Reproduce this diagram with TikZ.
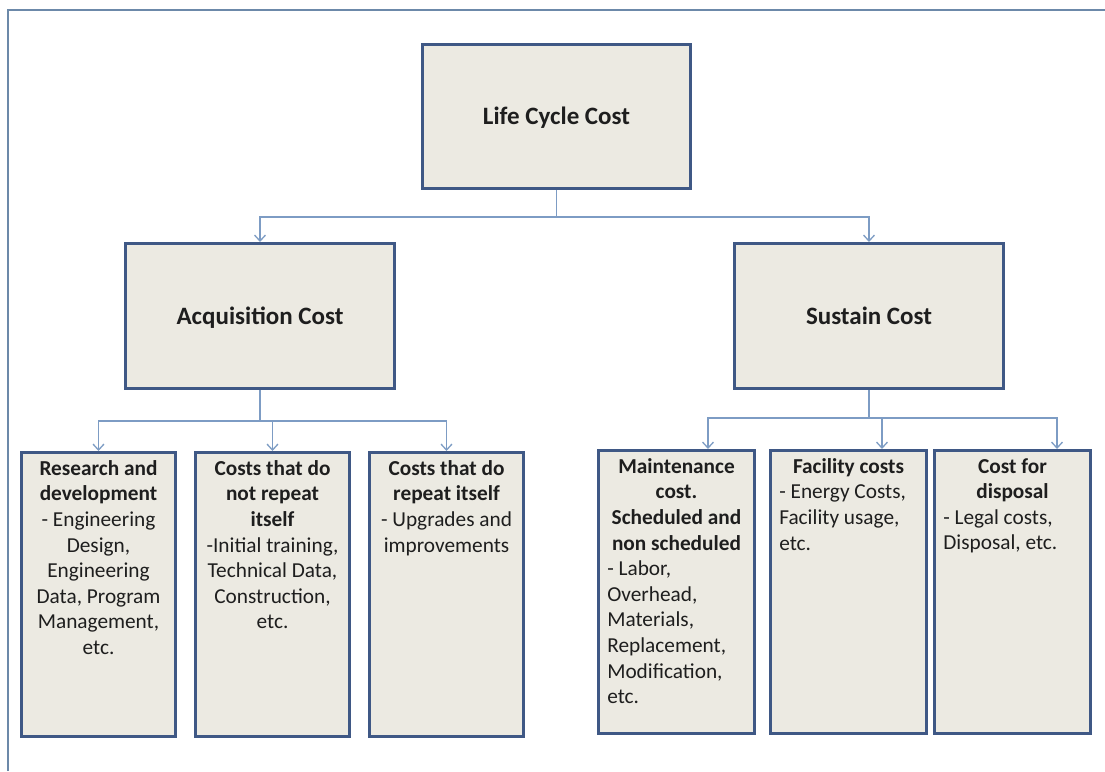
\documentclass[tikz,border=0pt]{standalone}
\usepackage{fontspec}
\setmainfont{Carlito}
\usetikzlibrary{arrows.meta,calc}

\definecolor{boxfill}{HTML}{ECEAE2}
\definecolor{boxline}{HTML}{3F5885}
\definecolor{linkc}{HTML}{7D9CC4}
\definecolor{framec}{HTML}{6C89A9}
\definecolor{inkc}{HTML}{1E1E1E}

% text cells of the lower boxes (fixed size, text from the top)
\newcommand\accell[1]{\parbox[t][268.4pt][t]{136.4pt}{#1}}
\newcommand\sucell[1]{\parbox[t][267.4pt][t]{138.4pt}{#1}}

\tikzset{
  box/.style={draw=boxline, line width=2.6pt, fill=boxfill, text=inkc},
  topbox/.style={box, minimum width=269.4pt, minimum height=145.4pt,
    text height=18pt, text depth=2pt,
    font=\fontsize{25}{30}\selectfont\bfseries},
  leaf/.style={box, inner xsep=9pt, inner ysep=8pt, anchor=north west,
    font=\fontsize{21.3}{25.6}\selectfont},
  link/.style={draw=linkc, line width=1.3pt},
  linkarrow/.style={link, -{Straight Barb[length=6pt,width=11pt]}},
  frameline/.style={draw=framec, line width=1.4pt}
}

\begin{document}
\begin{tikzpicture}[x=1pt, y=-1pt]
  \useasboundingbox (0,0) rectangle (1105,771);
  \fill[white] (0,0) rectangle (1105,771);

  % outer frame (left and top edges)
  \draw[frameline] (8,771) -- (8,10) -- (1105,10);

  % upper levels
  \node[topbox, minimum width=268.4pt, minimum height=144.4pt] (lcc) at (556.5,116.5) {Life Cycle Cost};
  \node[topbox] (acq) at (260,316) {Acquisition Cost};
  \node[topbox] (sus) at (869,316) {Sustain Cost};

  % acquisition branch
  \node[leaf] (rd) at (20,451) {\accell{\centering
    {\bfseries Research and\\development}\\
    - Engineering\\Design,\\Engineering\\Data, Program\\Management,\\etc.}};
  \node[leaf] (nrep) at (194,451) {\accell{\centering
    {\bfseries Costs that do\\not repeat\\itself}\\
    -Initial training,\\Technical Data,\\Construction,\\etc.}};
  \node[leaf] (rep) at (368,451) {\accell{\centering
    {\bfseries Costs that do\\repeat itself}\\
    - Upgrades and\\improvements}};

  % sustain branch
  \node[leaf] (mnt) at (597,449) {\sucell{%
    {\centering\bfseries Maintenance\\cost.\\Scheduled and\\non scheduled\par}%
    \raggedright - Labor,\\Overhead,\\Materials,\\Replacement,\\Modification,\\etc.}};
  \node[leaf] (fac) at (769,449) {\sucell{%
    {\centering\bfseries Facility costs\par}%
    \raggedright - Energy Costs,\\Facility usage,\\etc.}};
  \node[leaf] (dsp) at (933,449) {\sucell{%
    {\centering\bfseries Cost for\\disposal\par}%
    \raggedright - Legal costs,\\Disposal, etc.}};

  % connector levels
  \coordinate (ytop) at (0,217);
  \coordinate (yacq) at (0,421);
  \coordinate (ysus) at (0,418);
  \coordinate (xm) at (708,0);
  \coordinate (xf) at (882,0);
  \coordinate (xd) at (1057,0);

  \draw[link] (lcc.south) -- (lcc.south |- ytop) coordinate (j0);
  \draw[linkarrow] (j0) -| (acq.north);
  \draw[linkarrow] (j0) -| (sus.north);

  \draw[link] (acq.south) -- (acq.south |- yacq) coordinate (j1);
  \draw[linkarrow] (j1) -| (rd.north);
  \draw[linkarrow] (j1) -| (nrep.north);
  \draw[linkarrow] (j1) -| (rep.north);

  \draw[link] (sus.south) -- (sus.south |- ysus) coordinate (j2);
  \draw[linkarrow] (j2) -| (xm |- mnt.north);
  \draw[linkarrow] (j2) -| (xf |- fac.north);
  \draw[linkarrow] (j2) -| (xd |- dsp.north);
\end{tikzpicture}
\end{document}
